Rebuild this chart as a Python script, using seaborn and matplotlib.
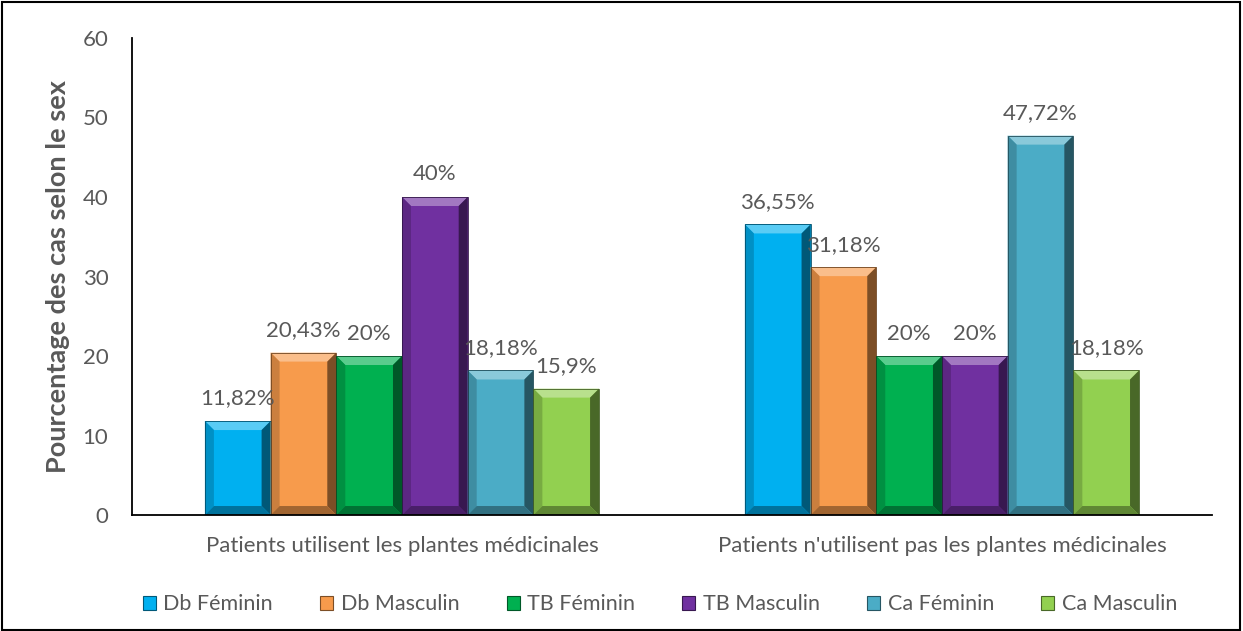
import matplotlib
matplotlib.use("Agg")
import matplotlib.pyplot as plt
from matplotlib.patches import Polygon, Rectangle
from matplotlib.colors import to_rgb
import numpy as np
import pandas as pd
import seaborn as sns

# Data
categories = ["Patients utilisent les plantes médicinales",
              "Patients n'utilisent pas les plantes médicinales"]
series = ["Db Féminin", "Db Masculin", "TB Féminin",
          "TB Masculin", "Ca Féminin", "Ca Masculin"]
values_users = [11.82, 20.43, 20, 40, 18.18, 15.9]
values_nonusers = [36.55, 31.18, 20, 20, 47.72, 18.18]
labels_users = ["11,82%", "20,43%", "20%", "40%", "18,18%", "15,9%"]
labels_nonusers = ["36,55%", "31,18%", "20%", "20%", "47,72%", "18,18%"]
colors = ["#00B0F0", "#F79B4C", "#00B050", "#7030A0", "#4BACC6", "#92D050"]

rows = []
for s, v, l in zip(series, values_users, labels_users):
    rows.append((categories[0], s, v, l))
for s, v, l in zip(series, values_nonusers, labels_nonusers):
    rows.append((categories[1], s, v, l))
df = pd.DataFrame(rows, columns=["categorie", "serie", "valeur", "etiquette"])

sns.set_theme(style="white")
plt.rcParams["font.family"] = ["Lato", "DejaVu Sans"]
text_color = "#595959"

fig = plt.figure(figsize=(12.43, 6.31), dpi=100)
ax = fig.add_axes([0.1062, 0.1838, 0.8688, 0.756])

sns.barplot(data=df, x="categorie", y="valeur", hue="serie",
            order=categories, hue_order=series, palette=colors,
            width=0.73, dodge=True, ax=ax, legend=False,
            saturation=1, errorbar=None, linewidth=0)

ax.set_ylim(0, 60)
ax.set_xlim(-0.5, 1.5)
ax.set_yticks(range(0, 61, 10))
ax.tick_params(axis="y", labelsize=16, colors=text_color, length=0, pad=17)
ax.tick_params(axis="x", labelsize=16, colors=text_color, length=0, pad=15)
ax.set_xlabel("")
ax.set_ylabel("Pourcentage des cas selon le sex", fontsize=19.5,
              fontweight="bold", color=text_color, labelpad=9)
for side in ["top", "right"]:
    ax.spines[side].set_visible(False)
for side in ["left", "bottom"]:
    ax.spines[side].set_color("black")
    ax.spines[side].set_linewidth(1.3)


def shade(c, f):
    r, g, b = to_rgb(c)
    if f >= 0:
        return (r + (1 - r) * f, g + (1 - g) * f, b + (1 - b) * f)
    return (r * (1 + f), g * (1 + f), b * (1 + f))


# Bevelled edges on each bar, derived from the bar geometry
bars = [p for p in ax.patches if isinstance(p, Rectangle) and p.get_height() > 0]
ppx = 1080 / 2.0   # pixels per x unit
ppy = 477 / 60.0   # pixels per y unit
bx = 9 / ppx
by = 9 / ppy
for p in bars:
    x0, y0 = p.get_x(), p.get_y()
    w, h = p.get_width(), p.get_height()
    x1, y1 = x0 + w, y0 + h
    c = p.get_facecolor()
    z = p.get_zorder() + 0.1
    top = Polygon([(x0, y1), (x1, y1), (x1 - bx, y1 - by), (x0 + bx, y1 - by)],
                  closed=True, facecolor=shade(c, 0.35), edgecolor="none", zorder=z)
    left = Polygon([(x0, y0), (x0, y1), (x0 + bx, y1 - by), (x0 + bx, y0 + by)],
                   closed=True, facecolor=shade(c, -0.18), edgecolor="none", zorder=z)
    right = Polygon([(x1, y0), (x1, y1), (x1 - bx, y1 - by), (x1 - bx, y0 + by)],
                    closed=True, facecolor=shade(c, -0.5), edgecolor="none", zorder=z)
    bottom = Polygon([(x0, y0), (x1, y0), (x1 - bx, y0 + by), (x0 + bx, y0 + by)],
                     closed=True, facecolor=shade(c, -0.35), edgecolor="none", zorder=z)
    for poly in (top, left, right, bottom):
        ax.add_patch(poly)
    ax.add_patch(Rectangle((x0, y0), w, h, facecolor="none",
                           edgecolor=shade(c, -0.55), linewidth=0.6,
                           zorder=z + 0.1))

# Value labels
for container, s in zip(ax.containers, series):
    labs = [df[(df.serie == s) & (df.categorie == c)].etiquette.iloc[0] for c in categories]
    ax.bar_label(container, labels=labs, padding=9, fontsize=16, color=text_color)

# Legend
handles = [Rectangle((0, 0), 1, 1, facecolor=c, edgecolor=shade(c, -0.5), linewidth=0.8)
           for c in colors]
fig.legend(handles, series, loc="center", bbox_to_anchor=(0.531, 0.042),
           ncol=6, frameon=False, fontsize=15.5, labelcolor=text_color,
           handlelength=0.6, handleheight=0.6, handletextpad=0.35,
           columnspacing=2.2)

# Figure frame
fig.patches.append(Rectangle((0.0015, 0.002), 0.996, 0.995, transform=fig.transFigure,
                             fill=False, edgecolor="black", linewidth=1.5))

fig.savefig("out.png", dpi=100)
